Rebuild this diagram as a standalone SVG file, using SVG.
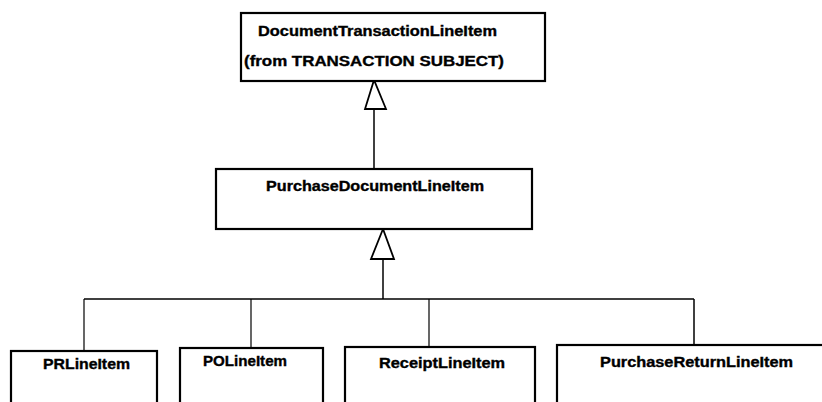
<svg xmlns="http://www.w3.org/2000/svg" width="822" height="402" viewBox="0 0 822 402">
<style>
.box{fill:#fff;stroke:#000;stroke-width:2.2}
.t{font-family:"Liberation Sans",Arial,sans-serif;font-weight:bold;font-size:14px;fill:#000;stroke:#000;stroke-width:0.35}
.c{fill:none;stroke:#000;stroke-width:1.5}
.thin{stroke-width:1.2}
.tri{fill:#fff;stroke:#000;stroke-width:1.8;stroke-linejoin:miter}
</style>
<rect width="822" height="402" fill="#fff"/>
<g id="connectors">
<line class="c" x1="374" y1="109" x2="374" y2="168"/>
<polygon class="tri" points="374,80 365,109 386,109"/>
<line class="c" x1="383" y1="259" x2="383" y2="299"/>
<polygon class="tri" points="383,229 371,259 394,259"/>
<line class="c" x1="84" y1="299" x2="694" y2="299"/>
<line class="c thin" x1="84" y1="299" x2="84" y2="351"/>
<line class="c thin" x1="251" y1="299" x2="251" y2="348"/>
<line class="c thin" x1="429" y1="299" x2="429" y2="347"/>
<line class="c" x1="694" y1="299" x2="694" y2="345"/>
</g>
<g id="DocumentTransactionLineItem">
<rect class="box" x="241" y="13" width="304" height="68"/>
<text class="t" x="258" y="36" textLength="239" lengthAdjust="spacingAndGlyphs">DocumentTransactionLineItem</text>
<text class="t" x="244" y="66" textLength="260" lengthAdjust="spacingAndGlyphs">(from TRANSACTION SUBJECT)</text>
</g>
<g id="PurchaseDocumentLineItem">
<rect class="box" x="216" y="169" width="316" height="60"/>
<text class="t" x="266" y="191" textLength="218" lengthAdjust="spacingAndGlyphs">PurchaseDocumentLineItem</text>
</g>
<g id="PRLineItem">
<rect class="box" x="11" y="351" width="146" height="60"/>
<text class="t" x="43" y="369" textLength="87" lengthAdjust="spacingAndGlyphs">PRLineItem</text>
</g>
<g id="POLineItem">
<rect class="box" x="180" y="348" width="143" height="60"/>
<text class="t" x="203" y="366" textLength="84" lengthAdjust="spacingAndGlyphs">POLineItem</text>
</g>
<g id="ReceiptLineItem">
<rect class="box" x="345" y="347" width="190" height="60"/>
<text class="t" x="379" y="368" textLength="126" lengthAdjust="spacingAndGlyphs">ReceiptLineItem</text>
</g>
<g id="PurchaseReturnLineItem">
<rect class="box" x="557" y="345" width="280" height="60"/>
<text class="t" x="600" y="367" textLength="193" lengthAdjust="spacingAndGlyphs">PurchaseReturnLineItem</text>
</g>
</svg>
